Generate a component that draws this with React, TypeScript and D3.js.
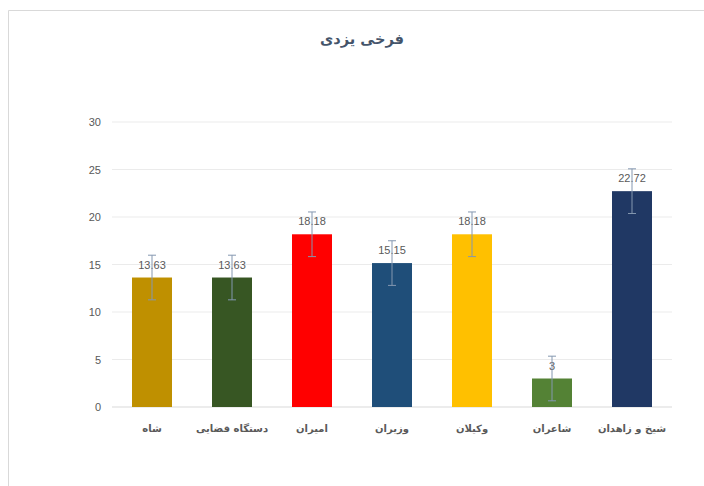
import React from "react";
import * as d3 from "d3";

const categories = ["شاه", "دستگاه قضایی", "امیران", "وزیران", "وکیلان", "شاعران", "شیخ و زاهدان"];
const values = [13.63, 13.63, 18.18, 15.15, 18.18, 3, 22.72];
const errors = [2.35, 2.35, 2.35, 2.35, 2.35, 2.35, 2.35];
const colors = ["#BF9000", "#375623", "#FF0000", "#1F4E79", "#FFC000", "#548235", "#203864"];
const yTicks = [0, 5, 10, 15, 20, 25, 30];
const title = "فرخی یزدی";

export default function App() {
  const W = 704, H = 486;
  const x = d3.scaleBand<string>().domain(categories).range([112, 672]).paddingInner(0.5).paddingOuter(0.25);
  const y = d3.scaleLinear().domain([0, 30]).range([407, 122]);
  return (
    <svg width={W} height={H} style={{ position: "absolute", left: 0, top: 0 }}>
      <rect x={0} y={0} width={W} height={H} fill="#fff" />
      <path d={`M8.5,${H} V10.5 H${W}`} fill="none" stroke="#d9d9d9" />
      <text x={362} y={44} textAnchor="middle" fontFamily="DejaVu Sans" fontWeight="bold" fontSize={14.5} fill="#44546A">{title}</text>
      {yTicks.map((t) => (
        <g key={t}>
          <line x1={112} x2={672} y1={y(t)} y2={y(t)} stroke={t === 0 ? "#d9d9d9" : "#ebebeb"} />
          <text x={101} y={y(t) + 4} textAnchor="end" fontFamily="Liberation Sans, Arial" fontSize={11} fill="#595959">{t}</text>
        </g>
      ))}
      {categories.map((c, i) => {
        const bx = x(c)!;
        const bw = x.bandwidth();
        const cx = bx + bw / 2;
        const v = values[i];
        const e = errors[i];
        return (
          <g key={c}>
            <rect x={bx} y={y(v)} width={bw} height={y(0) - y(v)} fill={colors[i]} />
            <text x={cx} y={y(v) - 9} textAnchor="middle" fontFamily="Liberation Sans, Arial" fontSize={11} fill="#595959">{v}</text>
            <g stroke="#8497B0" strokeWidth={1}>
              <line x1={cx} x2={cx} y1={y(v + e)} y2={y(Math.max(0, v - e))} />
              <line x1={cx - 4} x2={cx + 4} y1={y(v + e)} y2={y(v + e)} />
              <line x1={cx - 4} x2={cx + 4} y1={y(Math.max(0, v - e))} y2={y(Math.max(0, v - e))} />
            </g>
            <text x={cx} y={432} textAnchor="middle" fontFamily="DejaVu Sans" fontWeight="bold" fontSize={10} fill="#595959">{c}</text>
          </g>
        );
      })}
    </svg>
  );
}
